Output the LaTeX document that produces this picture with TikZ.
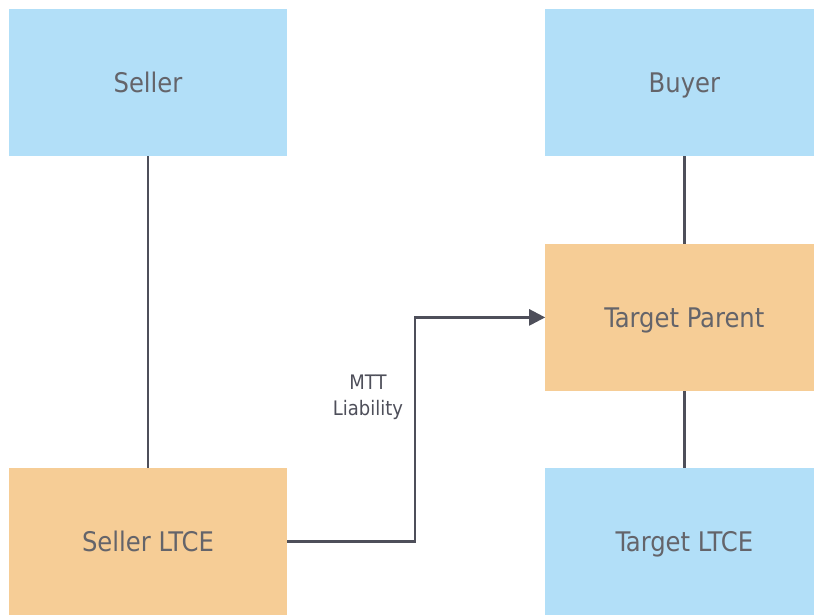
\documentclass[tikz,border=0pt]{standalone}
\usepackage{fontspec}
\setmainfont{DejaVu Sans Condensed}
\usetikzlibrary{positioning, arrows.meta}

\definecolor{boxblue}{RGB}{178,223,248}
\definecolor{boxorange}{RGB}{246,205,150}
\definecolor{txtgray}{RGB}{100,100,106}
\definecolor{linegray}{RGB}{78,79,90}

\begin{document}
\begin{tikzpicture}[x=1pt, y=1pt,
    entity/.style = {fill=boxblue, draw=none, minimum width=278pt, minimum height=147pt, inner sep=0pt,
                     text=txtgray, font=\fontsize{27}{32}\selectfont, text height=19.5pt, text depth=0pt},
    holding/.style = {entity, fill=boxorange},
    link/.style = {draw=linegray, line width=2.5pt},
    flow/.style = {link, -{Triangle[length=16pt, width=16pt]}}]
        \clip (0,0) rectangle (814,-614);
        \node[entity] (seller) at (148,-82.5) {Seller};
        \node[entity, right=258pt of seller] (buyer) {Buyer};
        \node[holding, below=87.5pt of buyer] (tparent) {Target Parent};
        \node[entity, below=76.5pt of tparent] (tltce) {Target LTCE};
        \node[holding, below=311.5pt of seller] (sltce) {Seller LTCE};
        \node[text=linegray, align=center, font=\fontsize{20}{26}\selectfont] (mtt) at (368,-397) {MTT\\Liability};
        \draw[link] (seller) -- (sltce);
        \draw[link] (buyer) -- (tparent);
        \draw[link] (tparent) -- (tltce);
        \draw[flow] (sltce.east) -- ++(128,0) |- (tparent.west);
    \end{tikzpicture}
\end{document}
